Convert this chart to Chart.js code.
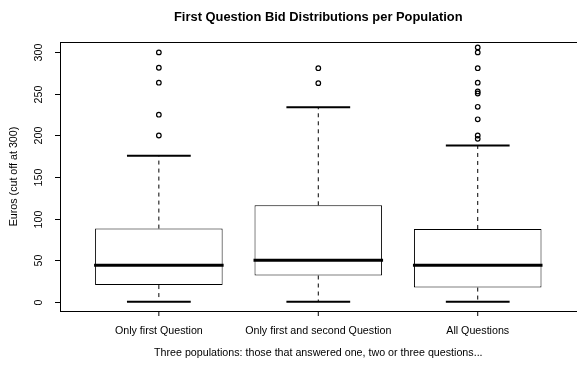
<!DOCTYPE html>
<html>
<head>
<meta charset="utf-8">
<script src="https://cdn.jsdelivr.net/npm/chart.js@4.4.0/dist/chart.umd.min.js"></script>
<style>
  html, body { margin: 0; padding: 0; background: #fff; overflow: hidden; }
</style>
</head>
<body>
<canvas id="bidChart" width="577" height="365"></canvas>
<script>
// === Data ===
const populations = ["Only first Question", "Only first and second Question", "All Questions"];
const whiskerLow = [0, 0, 0];
const quartile1 = [20, 31.5, 17];
const medians = [44, 50, 44];
const quartile3 = [88, 116, 87.5];
const whiskerHigh = [175.5, 234, 188];
const outliersFirst = [200, 225, 263.5, 281.5, 300];
const outliersSecond = [263, 281];
const outliersAll = [196, 200, 219.5, 234.5, 250.5, 253, 263.5, 281, 300, 306];
const yTicks = [0, 50, 100, 150, 200, 250, 300];

const chartTitle = "First Question Bid Distributions per Population";
const xTitle = "Three populations: those that answered one, two or three questions...";
const yTitle = "Euros (cut off at 300)";

const FONT = "'Liberation Sans', Arial, Helvetica, sans-serif";

// outliers as scatter points, one list per population
const outlierPoints = [];
[outliersFirst, outliersSecond, outliersAll].forEach((list, i) => {
  list.forEach(v => outlierPoints.push({ x: i + 1, y: v }));
});

// === whiskers, staples and medians ===
const boxplotLines = {
  id: "boxplotLines",
  afterDatasetsDraw(chart) {
    const { ctx, scales: { x, y } } = chart;
    const boxes = chart.getDatasetMeta(0).data;
    ctx.save();
    ctx.strokeStyle = "#000";
    populations.forEach((p, i) => {
      const cx = x.getPixelForValue(i + 1);
      const half = boxes[i].width / 2;

      // dashed whiskers
      ctx.lineWidth = 1;
      ctx.setLineDash([4, 4]);
      ctx.beginPath();
      ctx.moveTo(cx, y.getPixelForValue(quartile3[i]));
      ctx.lineTo(cx, y.getPixelForValue(whiskerHigh[i]));
      ctx.moveTo(cx, y.getPixelForValue(quartile1[i]));
      ctx.lineTo(cx, y.getPixelForValue(whiskerLow[i]));
      ctx.stroke();
      ctx.setLineDash([]);

      // staples (half the box width)
      ctx.lineWidth = 2;
      ctx.beginPath();
      [whiskerHigh[i], whiskerLow[i]].forEach(v => {
        const py = y.getPixelForValue(v);
        ctx.moveTo(cx - half / 2, py);
        ctx.lineTo(cx + half / 2, py);
      });
      ctx.stroke();

      // median
      ctx.lineWidth = 3;
      ctx.beginPath();
      const my = y.getPixelForValue(medians[i]);
      ctx.moveTo(cx - half - 1, my);
      ctx.lineTo(cx + half + 1, my);
      ctx.stroke();
    });
    ctx.restore();
  }
};

// === frame, ticks, labels and titles (R style) ===
const rAxes = {
  id: "rAxes",
  afterDraw(chart) {
    const { ctx, chartArea: a, scales: { x, y } } = chart;
    ctx.save();
    ctx.strokeStyle = "#000";
    ctx.fillStyle = "#000";
    ctx.lineWidth = 1;

    // frame (right side falls outside the picture)
    ctx.strokeRect(a.left + 0.5, a.top + 0.5, a.right - a.left + 10, a.bottom - a.top);

    // y axis ticks + rotated labels
    ctx.font = "10.7px " + FONT;
    ctx.textAlign = "center";
    ctx.textBaseline = "middle";
    yTicks.forEach(v => {
      const py = Math.round(y.getPixelForValue(v)) + 0.5;
      ctx.beginPath();
      ctx.moveTo(a.left, py);
      ctx.lineTo(a.left - 5, py);
      ctx.stroke();
      ctx.save();
      ctx.translate(a.left - 21, py);
      ctx.rotate(-Math.PI / 2);
      ctx.fillText(String(v), 0, 0);
      ctx.restore();
    });

    // x axis ticks + category labels
    populations.forEach((p, i) => {
      const px = x.getPixelForValue(i + 1);
      ctx.beginPath();
      ctx.moveTo(px, a.bottom);
      ctx.lineTo(px, a.bottom + 5);
      ctx.stroke();
      ctx.fillText(p, px, a.bottom + 20);
    });

    // axis titles
    const midX = x.getPixelForValue((1 + populations.length) / 2);
    ctx.fillText(xTitle, midX, a.bottom + 42);
    ctx.save();
    ctx.translate(14.5, (a.top + a.bottom) / 2);
    ctx.rotate(-Math.PI / 2);
    ctx.fillText(yTitle, 0, 0);
    ctx.restore();

    // main title
    ctx.font = "bold 12.9px " + FONT;
    ctx.fillText(chartTitle, midX, 17);
    ctx.restore();
  }
};

const ctx = document.getElementById("bidChart");
new Chart(ctx, {
  type: "bar",
  data: {
    datasets: [
      {
        type: "bar",
        data: populations.map((p, i) => ({ x: i + 1, y: [quartile1[i], quartile3[i]] })),
        backgroundColor: "#fff",
        borderColor: "#000",
        borderWidth: 1,
        borderSkipped: false,
        barPercentage: 0.8,
        categoryPercentage: 1
      },
      {
        type: "scatter",
        data: outlierPoints,
        pointStyle: "circle",
        pointRadius: 2.3,
        borderWidth: 1.2,
        borderColor: "#000",
        backgroundColor: "rgba(0,0,0,0)"
      }
    ]
  },
  options: {
    responsive: false,
    devicePixelRatio: 1,
    animation: false,
    events: [],
    layout: { padding: { left: 60, top: 42, right: 0, bottom: 54 } },
    plugins: {
      legend: { display: false },
      tooltip: { enabled: false },
      title: { display: false }
    },
    scales: {
      x: {
        type: "linear",
        display: false,
        offset: false,
        min: 0.38,
        max: 3.59,
        afterBuildTicks: scale => {
          scale.ticks = populations.map((p, i) => ({ value: i + 1 }));
        }
      },
      y: {
        type: "linear",
        display: false,
        min: -11.2,
        max: 312.5
      }
    }
  },
  plugins: [boxplotLines, rAxes]
});
</script>
</body>
</html>
